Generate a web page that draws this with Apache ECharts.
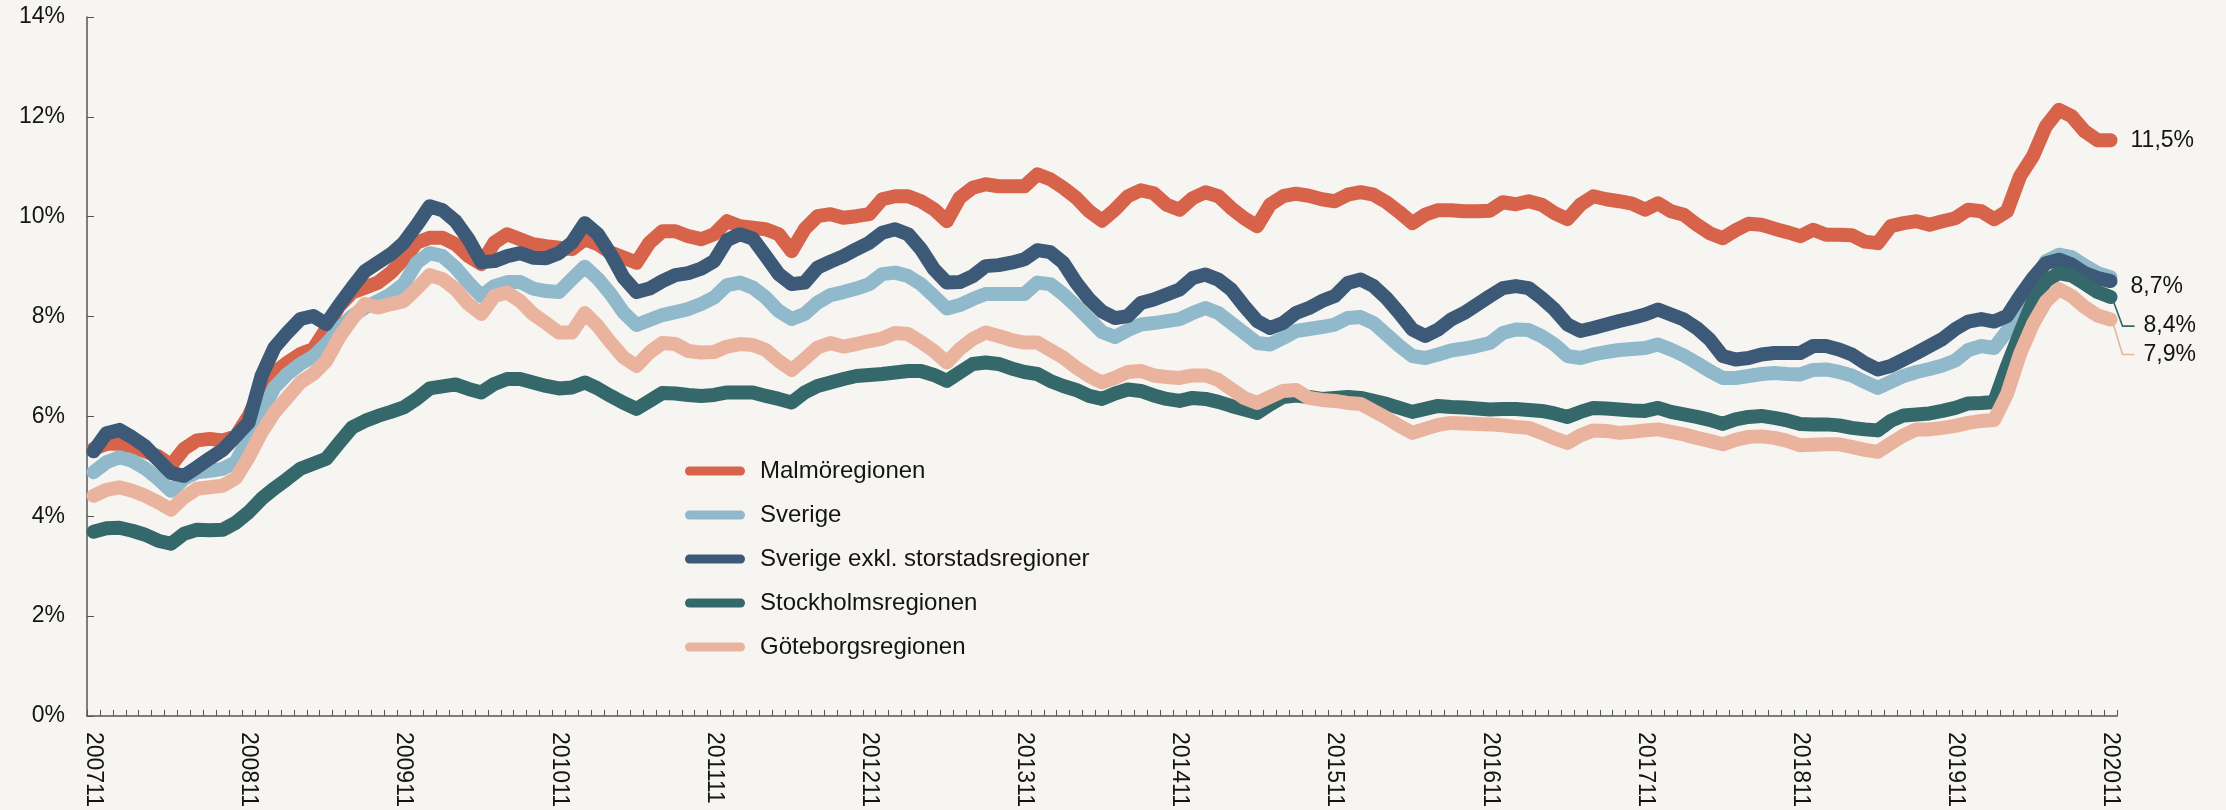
<!DOCTYPE html>
<html>
<head>
<meta charset="utf-8">
<script src="https://cdn.jsdelivr.net/npm/echarts@6.0.0/dist/echarts.min.js"></script>
<style>
  html, body { margin: 0; padding: 0; background: #f6f5f1; }
  #chart { width: 2226px; height: 810px; }
</style>
</head>
<body>
<div id="chart"></div>
<script>
// Months 2007-11 .. 2020-11 (157 categories)
const months = [];
for (let k = 0; k < 157; k++) {
  const m = 10 + k;               // 0-based month index starting at Nov 2007
  const y = 2007 + Math.floor(m / 12);
  const mm = (m % 12) + 1;
  months.push(String(y) + (mm < 10 ? '0' + mm : String(mm)));
}

const seriesNames = ['Malmöregionen', 'Sverige', 'Sverige exkl. storstadsregioner', 'Stockholmsregionen', 'Göteborgsregionen'];

const malmo = [
  5.35, 5.45, 5.45, 5.40, 5.30, 5.20, 5.02, 5.35, 5.52, 5.55, 5.52, 5.60,
  6.01, 6.55, 6.88, 7.08, 7.25, 7.35, 7.75, 8.21, 8.48, 8.58, 8.68, 8.88,
  9.15, 9.48, 9.58, 9.58, 9.45, 9.21, 9.05, 9.48, 9.65, 9.55, 9.45, 9.41,
  9.38, 9.35, 9.55, 9.45, 9.28, 9.18, 9.08, 9.48, 9.71, 9.71, 9.61, 9.55,
  9.65, 9.91, 9.81, 9.78, 9.75, 9.65, 9.31, 9.75, 10.01, 10.05, 9.98, 10.01,
  10.05, 10.35, 10.41, 10.41, 10.31, 10.15, 9.91, 10.38, 10.58, 10.65, 10.61, 10.61,
  10.61, 10.85, 10.75, 10.58, 10.38, 10.11, 9.92, 10.14, 10.41, 10.53, 10.47, 10.24,
  10.14, 10.37, 10.49, 10.41, 10.17, 9.97, 9.81, 10.24, 10.41, 10.46, 10.42, 10.35,
  10.31, 10.44, 10.49, 10.44, 10.29, 10.09, 9.87, 10.04, 10.13, 10.13, 10.11, 10.11,
  10.12, 10.29, 10.25, 10.31, 10.24, 10.07, 9.95, 10.24, 10.41, 10.35, 10.31, 10.26,
  10.14, 10.27, 10.11, 10.04, 9.84, 9.67, 9.57, 9.73, 9.86, 9.84, 9.76, 9.69,
  9.61, 9.74, 9.64, 9.64, 9.63, 9.50, 9.47, 9.81, 9.87, 9.91, 9.84, 9.91,
  9.97, 10.14, 10.11, 9.95, 10.11, 10.81, 11.21, 11.81, 12.14, 12.01, 11.71, 11.53,
  11.53
];

const sverige = [
  4.88, 5.08, 5.18, 5.11, 4.96, 4.75, 4.51, 4.75, 4.88, 4.91, 4.95, 5.08,
  5.58, 6.08, 6.58, 6.85, 7.05, 7.20, 7.45, 7.75, 8.01, 8.18, 8.31, 8.45,
  8.65, 9.08, 9.27, 9.21, 8.98, 8.68, 8.41, 8.61, 8.69, 8.69, 8.56, 8.51,
  8.49, 8.75, 9.00, 8.76, 8.45, 8.08, 7.83, 7.93, 8.03, 8.09, 8.15, 8.25,
  8.38, 8.63, 8.68, 8.58, 8.38, 8.11, 7.95, 8.05, 8.28, 8.43, 8.49, 8.56,
  8.65, 8.85, 8.88, 8.81, 8.65, 8.41, 8.16, 8.23, 8.35, 8.45, 8.45, 8.45,
  8.45, 8.68, 8.65, 8.45, 8.21, 7.95, 7.69, 7.59, 7.73, 7.84, 7.87, 7.91,
  7.95, 8.07, 8.17, 8.07, 7.87, 7.67, 7.47, 7.44, 7.57, 7.71, 7.75, 7.79,
  7.84, 7.97, 7.99, 7.87, 7.64, 7.41, 7.21, 7.17, 7.24, 7.32, 7.36, 7.41,
  7.47, 7.67, 7.74, 7.73, 7.61, 7.44, 7.21, 7.17, 7.24, 7.29, 7.33, 7.35,
  7.37, 7.44, 7.34, 7.22, 7.07, 6.91, 6.77, 6.77, 6.81, 6.85, 6.87, 6.85,
  6.84, 6.93, 6.94, 6.89, 6.82, 6.69, 6.57, 6.69, 6.81, 6.89, 6.95, 7.02,
  7.12, 7.33, 7.41, 7.37, 7.71, 8.11, 8.61, 9.11, 9.24, 9.19, 9.02, 8.87,
  8.79
];

const sverigeExkl = [
  5.30, 5.66, 5.73, 5.58, 5.40, 5.13, 4.87, 4.81, 4.98, 5.16, 5.33, 5.60,
  5.88, 6.81, 7.38, 7.68, 7.95, 8.01, 7.85, 8.23, 8.58, 8.91, 9.08, 9.25,
  9.48, 9.83, 10.21, 10.13, 9.91, 9.55, 9.09, 9.11, 9.21, 9.27, 9.18, 9.17,
  9.27, 9.48, 9.87, 9.65, 9.25, 8.78, 8.49, 8.56, 8.71, 8.83, 8.87, 8.96,
  9.11, 9.53, 9.65, 9.56, 9.21, 8.85, 8.65, 8.68, 8.98, 9.10, 9.21, 9.35,
  9.48, 9.68, 9.75, 9.65, 9.35, 8.95, 8.68, 8.69, 8.81, 9.01, 9.03, 9.08,
  9.15, 9.33, 9.29, 9.08, 8.68, 8.35, 8.10, 7.97, 8.01, 8.27, 8.34, 8.44,
  8.54, 8.77, 8.84, 8.74, 8.54, 8.21, 7.91, 7.77, 7.87, 8.07, 8.17, 8.31,
  8.41, 8.67, 8.74, 8.61, 8.37, 8.07, 7.74, 7.61, 7.74, 7.94, 8.07, 8.24,
  8.41, 8.57, 8.61, 8.57, 8.37, 8.14, 7.84, 7.71, 7.77, 7.84, 7.91, 7.97,
  8.04, 8.14, 8.04, 7.94, 7.77, 7.54, 7.21, 7.14, 7.17, 7.24, 7.27, 7.27,
  7.27, 7.41, 7.41, 7.34, 7.24, 7.07, 6.94, 7.01, 7.14, 7.27, 7.41, 7.55,
  7.75, 7.90, 7.95, 7.90, 8.01, 8.41, 8.77, 9.07, 9.14, 9.04, 8.87, 8.77,
  8.71
];

const stockholm = [
  3.69, 3.76, 3.77, 3.71, 3.63, 3.51, 3.45, 3.65, 3.73, 3.72, 3.73, 3.87,
  4.08, 4.35, 4.56, 4.75, 4.95, 5.05, 5.15, 5.47, 5.78, 5.91, 6.01, 6.09,
  6.18, 6.35, 6.56, 6.60, 6.64, 6.55, 6.48, 6.65, 6.75, 6.75, 6.68, 6.61,
  6.56, 6.58, 6.68, 6.56, 6.41, 6.27, 6.15, 6.31, 6.47, 6.46, 6.43, 6.41,
  6.43, 6.48, 6.48, 6.48, 6.41, 6.35, 6.28, 6.48, 6.61, 6.68, 6.75, 6.81,
  6.83, 6.85, 6.88, 6.91, 6.91, 6.83, 6.71, 6.88, 7.05, 7.08, 7.05, 6.96,
  6.89, 6.85, 6.71, 6.61, 6.53, 6.41, 6.35, 6.46, 6.54, 6.51, 6.42, 6.35,
  6.31, 6.37, 6.35, 6.29, 6.21, 6.14, 6.07, 6.24, 6.39, 6.42, 6.39, 6.35,
  6.37, 6.39, 6.37, 6.31, 6.25, 6.17, 6.09, 6.15, 6.21, 6.19, 6.18, 6.16,
  6.14, 6.15, 6.15, 6.13, 6.11, 6.06, 5.99, 6.09, 6.17, 6.16, 6.14, 6.12,
  6.11, 6.17, 6.09, 6.04, 5.99, 5.93, 5.85, 5.94, 5.99, 6.01, 5.97, 5.92,
  5.85, 5.84, 5.84, 5.82, 5.77, 5.74, 5.72, 5.91, 6.02, 6.04, 6.06, 6.11,
  6.17, 6.26, 6.27, 6.29, 7.01, 7.67, 8.31, 8.71, 8.87, 8.82, 8.66, 8.49,
  8.39
];

const goteborg = [
  4.41, 4.53, 4.58, 4.51, 4.41, 4.28, 4.13, 4.38, 4.55, 4.58, 4.61, 4.76,
  5.18, 5.68, 6.08, 6.38, 6.68, 6.85, 7.11, 7.58, 7.95, 8.25, 8.18, 8.25,
  8.31, 8.56, 8.83, 8.75, 8.55, 8.25, 8.05, 8.41, 8.48, 8.31, 8.05, 7.87,
  7.68, 7.68, 8.07, 7.81, 7.48, 7.18, 7.01, 7.28, 7.47, 7.45, 7.31, 7.28,
  7.29, 7.40, 7.45, 7.43, 7.33, 7.11, 6.93, 7.15, 7.38, 7.47, 7.40, 7.45,
  7.51, 7.56, 7.67, 7.65, 7.49, 7.31, 7.08, 7.35, 7.55, 7.68, 7.61, 7.53,
  7.48, 7.48, 7.33, 7.18, 6.98, 6.81, 6.68, 6.77, 6.89, 6.91, 6.82, 6.79,
  6.77, 6.82, 6.82, 6.73, 6.55, 6.37, 6.27, 6.39, 6.51, 6.53, 6.37, 6.33,
  6.31, 6.27, 6.25, 6.11, 5.97, 5.81, 5.67, 5.75, 5.83, 5.87, 5.86, 5.85,
  5.84, 5.82, 5.79, 5.77, 5.67, 5.56, 5.47, 5.62, 5.72, 5.71, 5.67, 5.69,
  5.72, 5.74, 5.69, 5.64, 5.57, 5.51, 5.44, 5.53, 5.59, 5.60, 5.57, 5.51,
  5.42, 5.43, 5.44, 5.44, 5.39, 5.33, 5.29, 5.46, 5.62, 5.74, 5.74, 5.77,
  5.81, 5.87, 5.91, 5.93, 6.45, 7.25, 7.85, 8.30, 8.55, 8.41, 8.19, 8.02,
  7.94
];

const yTicks = [0, 2, 4, 6, 8, 10, 12, 14];

const colors = ['#d6634a', '#91b9cc', '#3c5a78', '#35686b', '#eab39e'];
const FONT = '"Liberation Sans", Arial, sans-serif';
const TXT = '#141414';
const AXIS = '#555555';

const fmt = v => v.toFixed(1).replace('.', ',') + '%';

const chart = echarts.init(document.getElementById('chart'), null, { renderer: 'canvas' });

function lineSeries(name, data, color, endLabel) {
  const s = {
    name: name,
    type: 'line',
    data: data,
    symbol: 'none',
    showSymbol: false,
    silent: true,
    emphasis: { disabled: true },
    lineStyle: { color: color, width: 14, cap: 'round', join: 'round' },
    itemStyle: { color: color }
  };
  if (endLabel) {
    s.endLabel = Object.assign({
      show: true,
      formatter: p => fmt(p.value),
      color: TXT,
      fontFamily: FONT,
      fontSize: 23,
      distance: 20
    }, endLabel);
  }
  return s;
}

const option = {
  backgroundColor: '#f6f5f1',
  animation: false,
  textStyle: { fontFamily: FONT },
  grid: { left: 87, right: 109, top: 17, bottom: 93, containLabel: false },
  legend: {
    orient: 'vertical',
    left: 680,
    top: 454,
    itemWidth: 60,
    itemHeight: 9,
    itemGap: 20,
    selectedMode: false,
    icon: 'path://M4.5,0 H55.5 A4.5,4.5 0 0 1 55.5,9 H4.5 A4.5,4.5 0 0 1 4.5,0 Z',
    textStyle: { fontFamily: FONT, fontSize: 24, color: TXT, lineHeight: 24, padding: [0, 0, 0, 10] },
    data: seriesNames
  },
  xAxis: {
    type: 'category',
    data: months,
    boundaryGap: true,
    axisLine: { show: true, lineStyle: { color: AXIS, width: 1.5 } },
    axisTick: { show: true, interval: 0, inside: true, length: 6, lineStyle: { color: AXIS, width: 1 } },
    axisLabel: { interval: 11, rotate: -90, margin: 16, fontFamily: FONT, fontSize: 23, color: TXT },
    splitLine: { show: false }
  },
  yAxis: {
    type: 'value',
    min: yTicks[0],
    max: yTicks[yTicks.length - 1],
    interval: 2,
    axisLine: { show: true, lineStyle: { color: AXIS, width: 1.5 } },
    axisTick: { show: true, inside: true, length: 7, lineStyle: { color: AXIS, width: 1 } },
    axisLabel: { formatter: '{value}%', margin: 22, fontFamily: FONT, fontSize: 23, color: TXT },
    splitLine: { show: false }
  },
  series: [
    lineSeries(seriesNames[0], malmo, colors[0], { offset: [0, 0] }),
    lineSeries(seriesNames[1], sverige, colors[1], null),
    lineSeries(seriesNames[2], sverigeExkl, colors[2], { offset: [0, 6] }),
    lineSeries(seriesNames[3], stockholm, colors[3], { offset: [13, 29] }),
    lineSeries(seriesNames[4], goteborg, colors[4], { offset: [13, 35] })
  ]
};

chart.setOption(option);

// Leader lines for the two shifted end labels
const last = months.length - 1;
function leader(data, dy, color) {
  const p = chart.convertToPixel({ gridIndex: 0 }, [last, data[last]]);
  return {
    type: 'polyline',
    z: 1,
    silent: true,
    shape: { points: [[p[0] + 2, p[1] + 2], [p[0] + 12, p[1] + dy], [p[0] + 24, p[1] + dy]] },
    style: { stroke: color, lineWidth: 1.6, fill: null }
  };
}
chart.setOption({
  graphic: [
    leader(stockholm, 29, colors[3]),
    leader(goteborg, 35, colors[4])
  ]
});
</script>
</body>
</html>
